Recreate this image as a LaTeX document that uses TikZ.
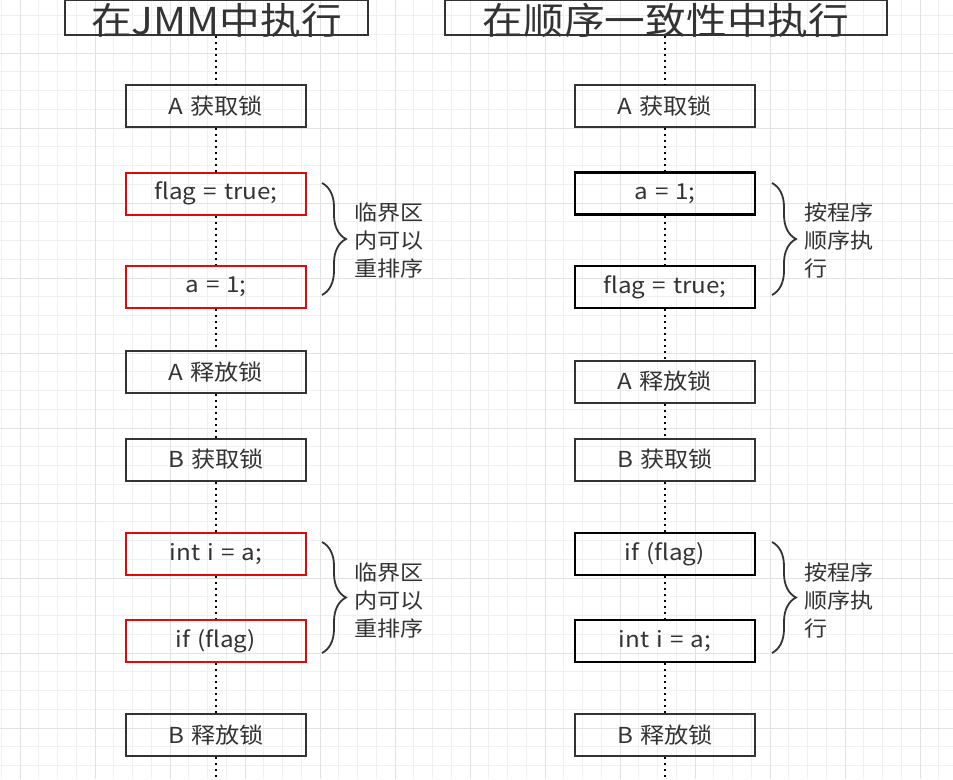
\documentclass[tikz,border=0pt]{standalone}
\usepackage{fontspec}
\setmainfont{Noto Sans CJK SC}[FakeStretch=1.1,WordSpace=1.3]
\usetikzlibrary{decorations.pathreplacing}
\definecolor{ink}{HTML}{333333}
\definecolor{lockred}{HTML}{E00A0A}
\definecolor{gridminor}{HTML}{F0F0F0}
\definecolor{gridmajor}{HTML}{E2E2E2}
\tikzset{
  opbox/.style={draw=ink,line width=2,minimum width=180,minimum height=42,inner sep=0,text=ink,font=\fontsize{22}{26}\selectfont},
  redbox/.style={opbox,draw=lockred},
  seqbox/.style={opbox,draw=black,line width=2.4},
  titlebox/.style={draw=ink,line width=1.8,minimum height=35,inner sep=0,text height=34,text depth=1,text=ink,font=\fontsize{37}{40}\selectfont},
  lifeline/.style={line width=2.2,dash pattern=on 2.2pt off 3.8pt},
  curly/.style={draw=ink,line width=1.8,decorate,decoration={brace,amplitude=24}},
  bracetext/.style={anchor=west,align=left,inner sep=0,text=ink,font=\fontsize{21}{28}\selectfont}
}
\begin{document}
\begin{tikzpicture}[x=1pt,y=-1pt]
\useasboundingbox (0,0) rectangle (953,779);
% background grid
\foreach \g in {1.25,20,...,953}{\draw[gridminor,line width=1] (\g,0)--(\g,779);}
\foreach \g in {15.5,34.25,...,779}{\draw[gridminor,line width=1] (0,\g)--(953,\g);}
\foreach \g in {20,95,...,953}{\draw[gridmajor,line width=1] (\g,0)--(\g,779);}
\foreach \g in {53,128,...,779}{\draw[gridmajor,line width=1] (0,\g)--(953,\g);}
% titles
\node[titlebox,minimum width=303] (tl) at (216.5,17.5) {在JMM中执行};
\node[titlebox,minimum width=442] (tr) at (666,17.5) {在顺序一致性中执行};
% left column: JMM
\foreach \n/\y/\txt/\sty in {1/106/A 获取锁/opbox,2/193.5/flag = true;/redbox,3/287/a = 1;/redbox,4/372/A 释放锁/opbox,
  5/459.5/B 获取锁/opbox,6/554/int i = a;/redbox,7/641/if (flag)/redbox,8/735/B 释放锁/opbox}{
\node[\sty] (l\n) at (216,\y) {\txt};
}
% right column: sequential consistency
\foreach \n/\y/\txt/\sty in {1/106/A 获取锁/opbox,2/193.5/a = 1;/seqbox,3/287/flag = true;/seqbox,4/381.5/A 释放锁/opbox,
  5/459.5/B 获取锁/opbox,6/554/if (flag)/seqbox,7/641/int i = a;/seqbox,8/735/B 释放锁/opbox}{
\node[\sty] (r\n) at (665,\y) {\txt};
}
\coordinate (lend) at (216,779);
\coordinate (rend) at (665,779);
% lifelines
\draw[lifeline] (tl.south -| l1.north)--(l1);
\draw[lifeline] (tr.south -| r1.north)--(r1);
\foreach \i [count=\j from 2] in {1,...,7}{
\draw[lifeline] (l\i)--(l\j);
\draw[lifeline] (r\i)--(r\j);
}
\draw[lifeline] (l8)--(lend);
\draw[lifeline] (r8)--(rend);
% braces
\foreach \s/\x/\top/\bot in {la/322/183/295,lb/322/542/653,ra/772/183/295,rb/772/542/653}{
\coordinate (\s top) at (\x,\top);
\coordinate (\s bot) at (\x,\bot);
\draw[curly] (\s top)--(\s bot);
}
\node[bracetext] (lta) at (354,240) {临界区\\内可以\\重排序};
\node[bracetext] (ltb) at (354,600) {临界区\\内可以\\重排序};
\node[bracetext] (rta) at (804,240) {按程序\\顺序执\\行};
\node[bracetext] (rtb) at (804,600) {按程序\\顺序执\\行};
\end{tikzpicture}
\end{document}
